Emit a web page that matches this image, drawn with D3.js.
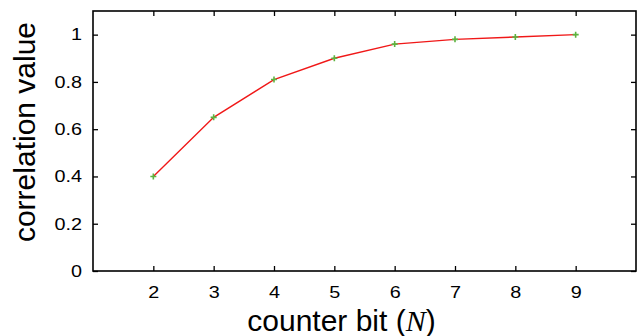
<!DOCTYPE html>
<html>
<head>
<meta charset="utf-8">
<script src="https://cdn.jsdelivr.net/npm/d3@7"></script>
<style>
  body { margin: 0; background: #fff; }
  svg text { font-family: "Liberation Sans", Arial, Helvetica, sans-serif; fill: #000; }
</style>
</head>
<body>
<div id="chart"></div>
<script>
// data
const bits = [2, 3, 4, 5, 6, 7, 8, 9];
const corr = [0.40, 0.65, 0.81, 0.90, 0.96, 0.98, 0.99, 1.00];
const xTicks = [2, 3, 4, 5, 6, 7, 8, 9];
const yTicks = [0, 0.2, 0.4, 0.6, 0.8, 1];

const W = 641, H = 336;
const pL = 93, pR = 636, pT = 11, pB = 271;

const svg = d3.select("#chart").append("svg")
  .attr("width", W)
  .attr("height", H);

const x = d3.scaleLinear().domain([1, 10]).range([pL, pR]);
const y = d3.scaleLinear().domain([0, 1.1]).range([pB, pT]);

// axes, ticks pointing inward, mirrored on top/right
const tk = 5;
const sx = 1.2; // tick labels in the reference are drawn a bit wide
const axB = svg.append("g")
  .attr("transform", "translate(0," + pB + ")")
  .call(d3.axisBottom(x).tickValues(xTicks).tickSizeInner(-tk).tickSizeOuter(0).tickPadding(15));
const axT = svg.append("g")
  .attr("transform", "translate(0," + pT + ")")
  .call(d3.axisTop(x).tickValues(xTicks).tickSizeInner(-tk).tickSizeOuter(0).tickFormat(""));
const axL = svg.append("g")
  .attr("transform", "translate(" + pL + ",0)")
  .call(d3.axisLeft(y).tickValues(yTicks).tickSizeInner(-tk).tickSizeOuter(0).tickPadding(11).tickFormat(d3.format("")));
const axR = svg.append("g")
  .attr("transform", "translate(" + pR + ",0)")
  .call(d3.axisRight(y).tickValues(yTicks).tickSizeInner(-tk).tickSizeOuter(0).tickFormat(""));

[axB, axT, axL, axR].forEach(g => {
  g.select(".domain").remove();
  g.selectAll(".tick line").attr("stroke", "#000").attr("stroke-width", 1.3);
  g.selectAll("text").style("font-size", "16.5px").attr("fill", "#000");
});
axB.selectAll(".tick text").attr("transform", "scale(" + sx + ",1)");
axL.selectAll(".tick text")
  .attr("x", -11 / sx)
  .attr("transform", "scale(" + sx + ",1)");

// frame
svg.append("rect")
  .attr("x", pL).attr("y", pT)
  .attr("width", pR - pL).attr("height", pB - pT)
  .attr("fill", "none").attr("stroke", "#000").attr("stroke-width", 1.6);

// line
const pts = bits.map((b, i) => [b, corr[i]]);
svg.append("path")
  .datum(pts)
  .attr("fill", "none")
  .attr("stroke", "#f01818")
  .attr("stroke-width", 1.4)
  .attr("d", d3.line().x(d => x(d[0])).y(d => y(d[1])));

// plus markers
const m = 3;
svg.selectAll(".mk")
  .data(pts)
  .enter()
  .append("path")
  .attr("class", "mk")
  .attr("stroke", "#5cb440")
  .attr("stroke-width", 1.6)
  .attr("d", d => {
    const px = x(d[0]), py = y(d[1]);
    return "M" + (px - m) + "," + py + "H" + (px + m) + "M" + px + "," + (py - m) + "V" + (py + m);
  });

// axis titles
svg.append("text")
  .attr("transform", "translate(35," + 132 + ") rotate(-90)")
  .attr("text-anchor", "middle")
  .style("font-size", "30px")
  .text("correlation value");

const xt = svg.append("text")
  .attr("x", (pL + pR) / 2 - 23)
  .attr("y", 331)
  .attr("text-anchor", "middle")
  .style("font-size", "30px");
xt.append("tspan").text("counter bit (");
xt.append("tspan")
  .style("font-family", "'Liberation Serif', 'Times New Roman', serif")
  .style("font-style", "italic")
  .text("N");
xt.append("tspan").text(")");
</script>
</body>
</html>
